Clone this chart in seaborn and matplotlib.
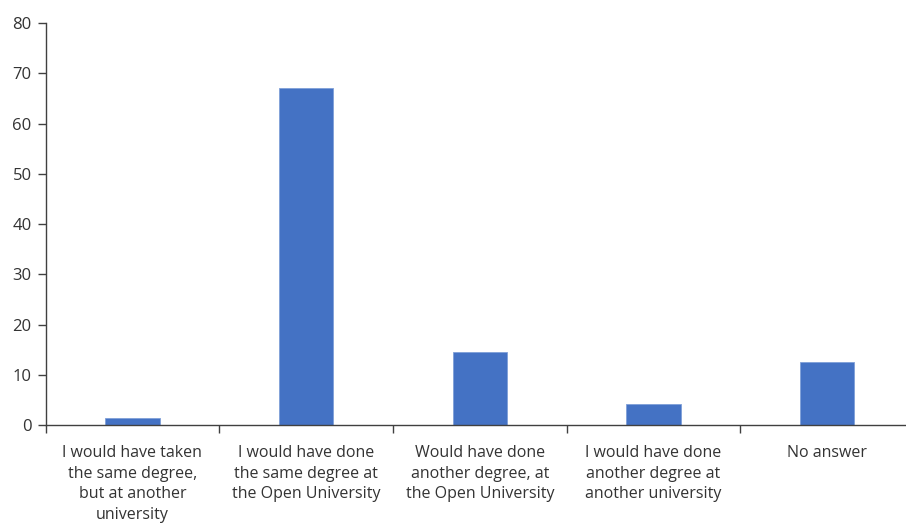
import matplotlib
matplotlib.use("Agg")
import matplotlib.pyplot as plt
import seaborn as sns
import pandas as pd

categories = [
    "I would have taken\nthe same degree,\nbut at another\nuniversity",
    "I would have done\nthe same degree at\nthe Open University",
    "Would have done\nanother degree, at\nthe Open University",
    "I would have done\nanother degree at\nanother university",
    "No answer",
]
values = [1.4, 67, 14.6, 4.2, 12.5]
yticks = [0, 10, 20, 30, 40, 50, 60, 70, 80]

sns.set_style("ticks")
plt.rcParams['font.family'] = ['Open Sans', 'DejaVu Sans']

fig = plt.figure(figsize=(9.06, 5.23), dpi=100)
ax = fig.add_axes([45.5 / 906, (523 - 425.3) / 523, (914 - 45.5) / 906, (425.3 - 23) / 523])

df = pd.DataFrame({"cat": categories, "val": values})
sns.barplot(data=df, x="cat", y="val", color="#4472C4", width=0.313, saturation=1,
            edgecolor="#7f9fd8", linewidth=0.6, ax=ax)

ax.set_xlim(-0.5, len(categories) - 0.5)
ax.set_ylim(0, 80)
ax.set_yticks(yticks)
ax.set_yticklabels([str(t) for t in yticks], fontsize=12, color="#333333")
ax.set_xlabel("")
ax.set_ylabel("")
ax.set_xticks(range(len(categories)))
ax.set_xticklabels(categories, fontsize=11.5, color="#333333", linespacing=1.4, va="top")
ax.tick_params(axis="x", which="major", length=0, pad=14)
ax.set_xticks([i - 0.5 for i in range(len(categories) + 1)], minor=True)
ax.tick_params(axis="x", which="minor", length=6, width=1, color="#404040", direction="out")
ax.tick_params(axis="y", length=6, width=1, color="#404040", direction="out", pad=4)

for s in ["top", "right"]:
    ax.spines[s].set_visible(False)
for s in ["left", "bottom"]:
    ax.spines[s].set_color("#404040")
    ax.spines[s].set_linewidth(1)

fig.savefig("out.png", dpi=100)
